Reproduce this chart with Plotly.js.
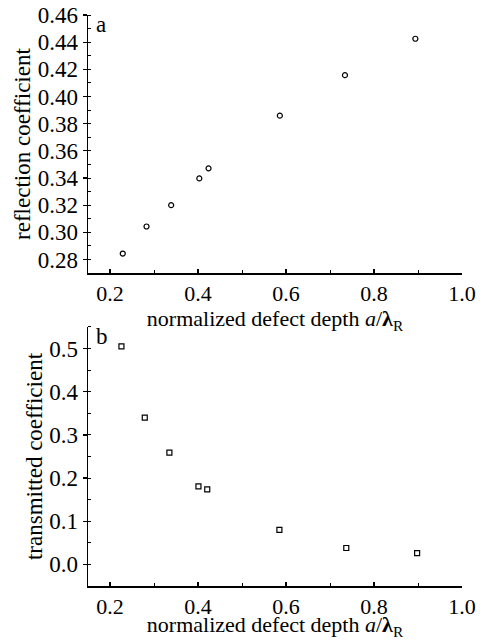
<!DOCTYPE html>
<html>
<head>
<meta charset="utf-8">
<script src="https://cdn.plot.ly/plotly-3.0.1.min.js"></script>
<style>html,body{margin:0;padding:0;background:#fff;}#chart{width:482px;height:640px;}</style>
</head>
<body>
<div id="chart"></div>
<script>
// Data
const depthA = [0.229, 0.283, 0.339, 0.403, 0.424, 0.586, 0.734, 0.894];
const reflection = [0.2844, 0.3043, 0.320, 0.3397, 0.3471, 0.3859, 0.4157, 0.4425];
const depthB = [0.226, 0.279, 0.335, 0.401, 0.421, 0.585, 0.737, 0.898];
const transmitted = [0.505, 0.340, 0.259, 0.181, 0.174, 0.080, 0.038, 0.026];
const xTickVals = [0.2, 0.4, 0.6, 0.8, 1.0];
const yTickValsA = [0.28, 0.30, 0.32, 0.34, 0.36, 0.38, 0.40, 0.42, 0.44, 0.46];
const yTickValsB = [0.0, 0.1, 0.2, 0.3, 0.4, 0.5];
const xTitle = 'normalized defect depth <i>a</i>/<b>λ</b><sub>R</sub>';

function f(size) { return {family: 'Liberation Serif', size: size || 23, color: '#000'}; }

function xAxis(anchor) {
  return {
    anchor: anchor, range: [0.15, 1.0], tickvals: xTickVals, tickformat: '.1f',
    showline: true, linecolor: '#000', linewidth: 1.5, showgrid: false, zeroline: false,
    ticks: 'inside', ticklen: 4, tickcolor: '#000', tickwidth: 1.2,
    minor: {dtick: 0.1, ticks: 'inside', ticklen: 3, tickcolor: '#000', tickwidth: 1},
    tickfont: f(22),
    title: {text: xTitle, font: f(22), standoff: 0},
    automargin: false
  };
}
function yAxis(anchor, domain, range, tickvals, fmt, minorDtick, title) {
  return {
    anchor: anchor, domain: domain, range: range, tickvals: tickvals, tickformat: fmt,
    showline: true, linecolor: '#000', linewidth: 1.5, showgrid: false, zeroline: false,
    ticks: 'outside', ticklen: 4, tickcolor: '#000', tickwidth: 1.2,
    minor: {dtick: minorDtick, ticks: 'inside', ticklen: 3, tickcolor: '#000', tickwidth: 1},
    tickfont: f(23),
    title: {text: title, font: f(23), standoff: 0},
    automargin: false
  };
}

const traces = [
  {x: depthA, y: reflection, xaxis: 'x', yaxis: 'y', mode: 'markers', type: 'scatter',
   marker: {symbol: 'circle-open', size: 5, color: '#000', line: {width: 1.2, color: '#000'}}},
  {x: depthB, y: transmitted, xaxis: 'x2', yaxis: 'y2', mode: 'markers', type: 'scatter',
   marker: {symbol: 'square-open', size: 5, color: '#000', line: {width: 1.2, color: '#000'}}}
];

const layout = {
  width: 482, height: 640,
  margin: {l: 88, r: 20, t: 15, b: 54},
  paper_bgcolor: '#fff', plot_bgcolor: '#fff',
  showlegend: false,
  font: f(23),
  xaxis: xAxis('y'),
  yaxis: yAxis('x', [0.548, 1], [0.27, 0.46], yTickValsA, '.2f', 0.01, 'reflection coefficient'),
  xaxis2: xAxis('y2'),
  yaxis2: yAxis('x2', [0, 0.4536], [-0.05, 0.55], yTickValsB, '.1f', 0.05, 'transmitted coefficient'),
  annotations: [
    {text: 'a', xref: 'x domain', yref: 'y domain', x: 0.015, y: 1.02, xanchor: 'left', yanchor: 'top', showarrow: false, font: f(23)},
    {text: 'b', xref: 'x2 domain', yref: 'y2 domain', x: 0.015, y: 1.02, xanchor: 'left', yanchor: 'top', showarrow: false, font: f(23)}
  ]
};

Plotly.newPlot('chart', traces, layout, {staticPlot: true, displayModeBar: false});
</script>
</body>
</html>
